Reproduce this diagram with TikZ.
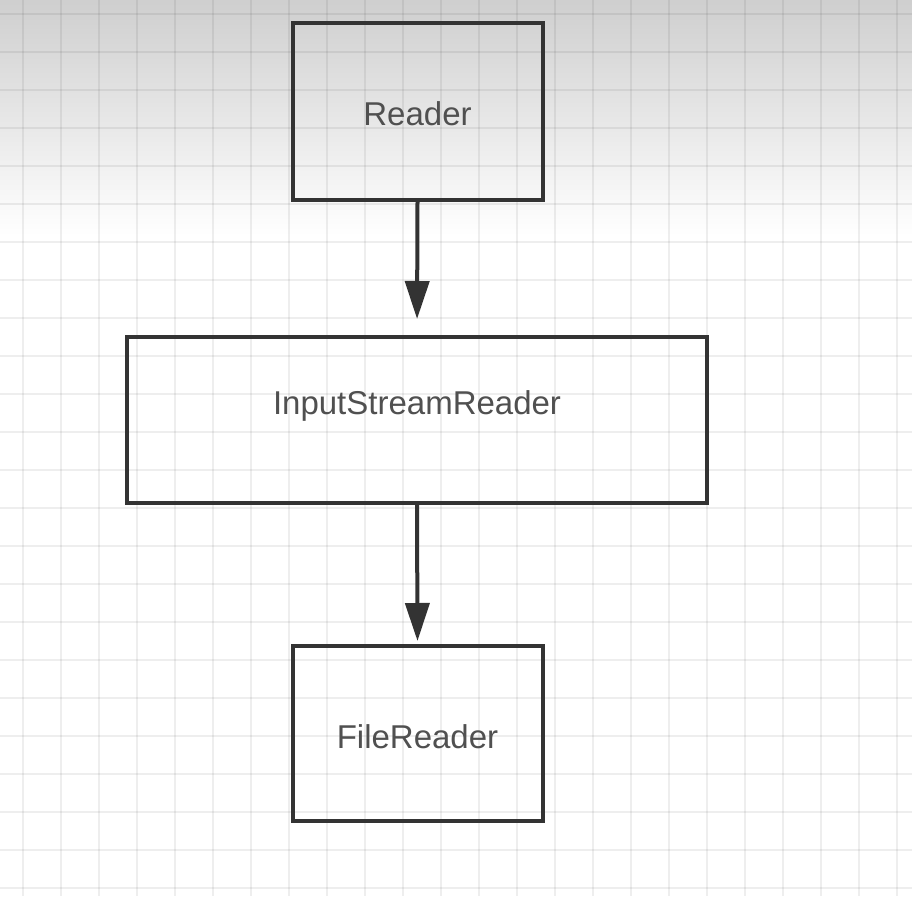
\documentclass[tikz,border=0pt]{standalone}
\usepackage{fontspec}
\setmainfont{Liberation Sans}
\usetikzlibrary{arrows.meta}
\definecolor{edge}{HTML}{333333}
\definecolor{txtc}{HTML}{505050}
\tikzset{
  classbox/.style={draw=edge, line width=4pt, fill=none, rectangle, inner sep=0pt},
  lbl/.style={text=txtc, font=\fontsize{33}{40}\selectfont},
  flow/.style={draw=edge, line width=4pt, -{Triangle[length=38pt,width=24pt]}},
  gridline/.style={black, opacity=0.065, line width=2pt}
}
\begin{document}
\begin{tikzpicture}[x=1pt,y=-1pt]
  \useasboundingbox (0,0) rectangle (912,896);
  \fill[white] (0,0) rectangle (912,896);
  \shade[top color=black!19, bottom color=white] (0,0) rectangle (912,236);
  \foreach \k in {0,...,23} {
    \draw[gridline] ({23+38*\k},0) -- ({23+38*\k},896);
    \draw[gridline] (0,{14+38*\k}) -- (912,{14+38*\k});
  }
  \node[classbox, minimum width=250pt, minimum height=176pt,
        label={[lbl,yshift=-2pt]center:Reader}] (reader) at (417.5,111.5) {};
  \node[classbox, minimum width=580pt, minimum height=166pt,
        label={[lbl,yshift=14pt]center:InputStreamReader}] (isr) at (417,420) {};
  \node[classbox, minimum width=250pt, minimum height=175pt,
        label={[lbl,yshift=-3pt]center:FileReader}] (file) at (417.5,733.5) {};
  \draw[flow, shorten >=16pt] (reader.south) -- (isr.north);
  \draw[flow, shorten >=3pt] (isr.south) -- (file.north);
\end{tikzpicture}
\end{document}
